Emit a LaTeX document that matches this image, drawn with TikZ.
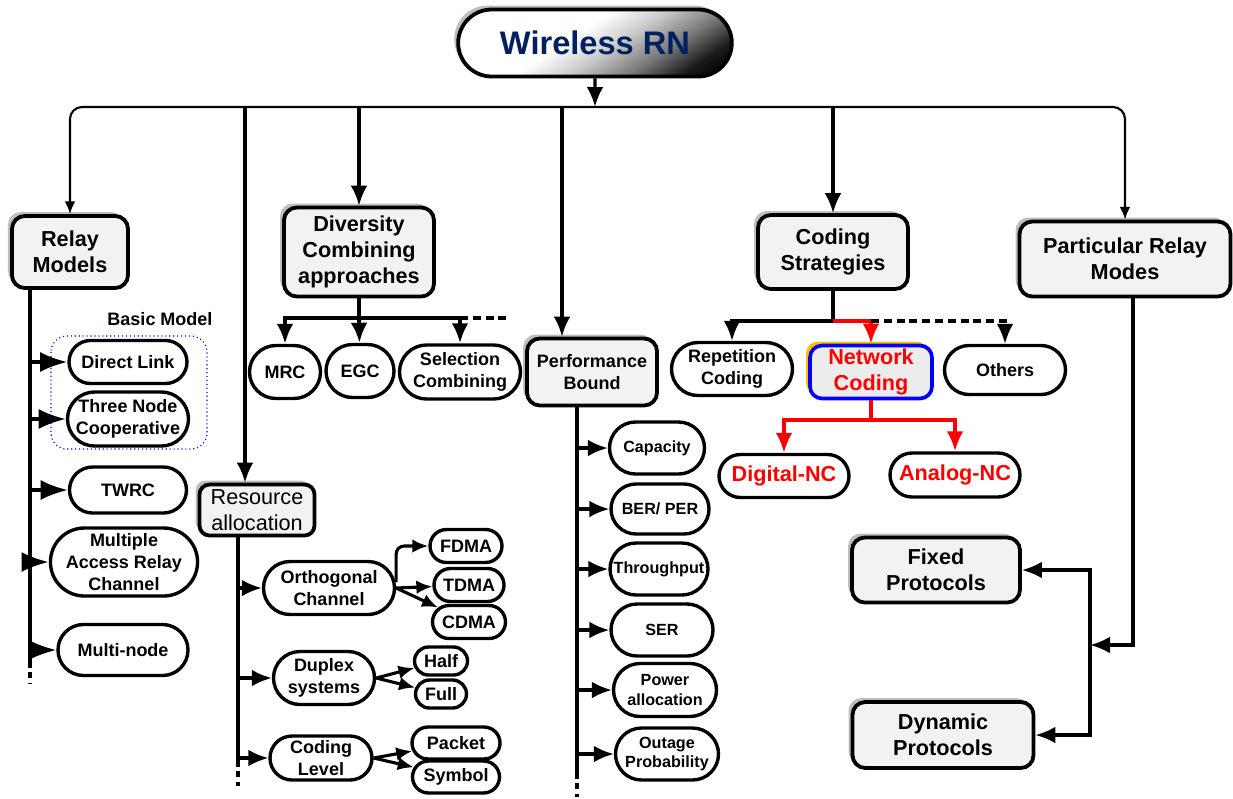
\documentclass[tikz,border=0pt]{standalone}
\usepackage{fontspec}
\setmainfont{Liberation Sans}
\usetikzlibrary{arrows.meta,shapes.misc,shadows}
\definecolor{rnblue}{RGB}{0,32,96}
\definecolor{lvlgray}{RGB}{242,242,242}
\definecolor{shadowgray}{RGB}{190,190,190}
\definecolor{ncorange}{RGB}{255,192,0}
\pgfdeclareverticalshading{rnshade}{100bp}{color(0bp)=(black); color(18bp)=(black); color(25bp)=(black!90); color(35bp)=(white!48!black); color(46bp)=(white!80!black); color(56bp)=(white); color(100bp)=(white)}

\begin{document}
\begin{tikzpicture}
	[x=0.025cm, y=-0.025cm, line width=2.2pt, >={Latex[length=0.5cm,width=0.42cm]},
	sz/.style 2 args={minimum width=#1*0.025cm, minimum height=#2*0.025cm},
	leaf/.style={rounded rectangle, draw, line width=2.4pt, fill=white, inner sep=0pt, align=center, font=\fontsize{12.8}{15.6}\selectfont\bfseries},
	pleaf/.style={leaf, font=\fontsize{11.5}{13.9}\selectfont\bfseries},
	redleaf/.style={leaf, text=red, font=\fontsize{15.4}{18.5}\selectfont\bfseries},
	main/.style={rectangle, rounded corners=0.32cm, draw, line width=2.7pt, fill=lvlgray, inner sep=0pt, align=center, font=\fontsize{15.4}{18.7}\selectfont\bfseries, drop shadow={shadow xshift=-0.1cm, shadow yshift=0.1cm, fill=shadowgray, opacity=1}},
	toplink/.style={line width=1.5pt, -{Latex[length=0.32cm,width=0.27cm]}, rounded corners=0.3cm},
	bigtip/.style={-{Latex[length=0.68cm,width=0.5cm]}},
	subtip/.style={-{Latex[length=0.4cm,width=0.34cm]}},
	ncline/.style={red, line width=2.6pt},
	colend/.style={line width=2.4pt, dash pattern=on 0.14cm off 0.12cm},
	busdash/.style={dash pattern=on 0.2cm off 0.12cm}]
	\useasboundingbox (0,0) rectangle (1233,798);

	% root
	\node[rounded rectangle, draw, line width=2.7pt, sz={283}{67}, shading=rnshade, shading angle=33, text=rnblue, font=\fontsize{23.2}{28}\selectfont\bfseries, drop shadow={shadow xshift=-0.1cm, shadow yshift=0.1cm, fill=shadowgray, opacity=1}] (rn) at (595,43) {Wireless RN};

	% first level
	\node[main, sz={116}{72}] (relay) at (70,252) {Relay\\Models};
	\node[main, sz={150}{89}] (div) at (359,252) {Diversity\\Combining\\approaches};
	\node[main, sz={130}{67}, font=\fontsize{12.8}{15.6}\selectfont\bfseries] (pb) at (592,372) {Performance\\Bound};
	\node[main, sz={150}{74}] (cs) at (833,252) {Coding\\Strategies};
	\node[main, sz={211}{75}] (prm) at (1125,259) {Particular Relay\\Modes};
	\node[main, sz={115}{51}, rounded corners=0.25cm, font=\fontsize{15.4}{18.5}\selectfont] (ra) at (257,510) {Resource\\allocation};
	\node[main, sz={168}{65}] (fp) at (936,570) {Fixed\\Protocols};
	\node[main, sz={181}{66}] (dp) at (943,735) {Dynamic\\Protocols};

	% relay models
	\node[inner sep=0pt, font=\fontsize{12.8}{15.6}\selectfont\bfseries] (bm) at (160,319) {Basic Model};
	\draw[blue, dotted, line width=0.8pt, rounded corners=0.4cm] (51,336) rectangle (207,449);
	\node[leaf, sz={118}{43}] (dl) at (128,362) {Direct Link};
	\node[leaf, sz={121}{54}] (tn) at (128,419) {Three Node\\Cooperative};
	\node[leaf, sz={117}{46}] (tw) at (128,490) {TWRC};
	\node[leaf, sz={131}{68}] (ma) at (124,562) {Multiple\\Access Relay\\Channel};
	\node[leaf, sz={130}{51}] (mn) at (123,650) {Multi-node};

	% diversity combining
	\node[leaf, sz={71}{53}] (mrc) at (285,372) {MRC};
	\node[leaf, sz={68}{53}] (egc) at (360,371) {EGC};
	\node[leaf, sz={121}{54}] (sc) at (460,372) {Selection\\Combining};

	% resource allocation
	\node[leaf, sz={131}{53}] (oc) at (329,588) {Orthogonal\\Channel};
	\node[leaf, sz={72}{33}] (fdma) at (466,546) {FDMA};
	\node[leaf, sz={70}{33}] (tdma) at (469,585) {TDMA};
	\node[leaf, sz={73}{33}] (cdma) at (469,622) {CDMA};
	\node[leaf, sz={101}{53}] (ds) at (324,678) {Duplex\\systems};
	\node[leaf, sz={53}{28}] (half) at (441,661) {Half};
	\node[leaf, sz={51}{28}] (full) at (441,694) {Full};
	\node[leaf, sz={102}{44}] (cl) at (321,758) {Coding\\Level};
	\node[leaf, sz={88}{32}] (pk) at (456,743) {Packet};
	\node[leaf, sz={87}{32}] (sy) at (456,777) {Symbol};

	% performance bound
	\node[pleaf, sz={95}{52}] (cap) at (657,448) {Capacity};
	\node[pleaf, sz={98}{50}] (ber) at (660,509) {BER/ PER};
	\node[pleaf, sz={98}{52}] (thr) at (659,569) {Throughput};
	\node[pleaf, sz={102}{52}] (ser) at (662,630) {SER};
	\node[pleaf, sz={103}{53}] (pa) at (665,690) {Power\\allocation};
	\node[pleaf, sz={103}{52}] (op) at (667,754) {Outage\\Probability};

	% coding strategies
	\node[leaf, sz={121}{53}] (rc) at (732,369) {Repetition\\Coding};
	\node[redleaf, rectangle, rounded corners=0.3cm, draw=blue, fill=gray!15, line width=2.6pt, sz={122}{53}, drop shadow={shadow xshift=-0.1cm, shadow yshift=0.1cm, fill=ncorange, opacity=1}] (nc) at (871,372) {Network\\Coding};
	\node[leaf, sz={121}{49}] (oth) at (1005,370) {Others};
	\node[redleaf, sz={130}{43}] (dnc) at (784,476) {Digital-NC};
	\node[redleaf, sz={130}{44}] (anc) at (955,475) {Analog-NC};

	% root bus
	\coordinate (bus) at (595,107);
	\coordinate (radrop) at ([xshift=-0.3cm]ra.north);
	\coordinate (pbdrop) at ([xshift=-0.75cm]pb.north);
	\draw[->] (rn) -- (bus);
	\draw[toplink] (bus) -| (relay);
	\draw[toplink] (bus) -| (prm);
	\draw[->] (bus -| radrop) -- (radrop);
	\draw[->] (bus -| div) -- (div);
	\draw[->] (bus -| pbdrop) -- (pbdrop);
	\draw[->] (bus -| cs) -- (cs);

	% relay column
	\coordinate (rtop) at (30,288);
	\coordinate (rend) at (30,662);
	\coordinate (rdots) at (30,684);
	\draw[line width=2.4pt] (rtop) -- (rend);
	\draw[colend] (rend) -- (rdots);
	\draw[bigtip] (rtop |- dl) -- (dl);
	\draw[bigtip] (rtop |- tn) -- (tn);
	\draw[bigtip] (rtop |- tw) -- (tw);
	\draw[bigtip] (rtop |- ma) -- (ma);
	\draw[bigtip] (rtop |- mn) -- (mn);

	% diversity branches
	\coordinate (dbus) at (359,318);
	\coordinate (dend) at (507,318);
	\draw[line width=2.8pt] (div) -- (dbus);
	\draw[->, line width=2.8pt] (dbus) -| (mrc);
	\draw[->, line width=2.8pt] (dbus) -- (egc);
	\draw[->, line width=2.8pt] (dbus) -| (sc);
	\draw[busdash, line width=2.8pt] (sc |- dbus) -- (dend);

	% resource column
	\coordinate (atop) at (238,536);
	\coordinate (aend) at (238,761);
	\coordinate (adots) at (238,786);
	\draw[line width=2.4pt] (atop) -- (aend);
	\draw[colend] (aend) -- (adots);
	\draw[->] (atop |- oc) -- (oc);
	\draw[->] (atop |- ds) -- (ds);
	\draw[->] (atop |- cl) -- (cl);
	\draw[subtip, rounded corners=0.2cm] ([yshift=0.15cm]oc.east) |- (fdma);
	\draw[subtip] (oc.east) -- (tdma);
	\draw[subtip] (oc.east) -- (cdma);
	\draw[subtip] (ds.east) -- (half);
	\draw[subtip] (ds.east) -- (full);
	\draw[subtip] (cl.east) -- (pk);
	\draw[subtip] (cl.east) -- (sy);

	% performance column
	\coordinate (ptop) at (577,406);
	\coordinate (pend) at (577,773);
	\coordinate (pdots) at (577,797);
	\draw[line width=2.4pt] (ptop) -- (pend);
	\draw[colend] (pend) -- (pdots);
	\draw[->] (ptop |- cap) -- (cap);
	\draw[->] (ptop |- ber) -- (ber);
	\draw[->] (ptop |- thr) -- (thr);
	\draw[->] (ptop |- ser) -- (ser);
	\draw[->] (ptop |- pa) -- (pa);
	\draw[->] (ptop |- op) -- (op);

	% coding branches
	\coordinate (cbus) at (833,321);
	\coordinate (nbus) at (871,420);
	\draw (cs) -- (cbus);
	\draw[->] (cbus) -| (rc);
	\draw[ncline, ->] (cbus) -| (nc);
	\draw[busdash, ->] (nc |- cbus) -| (oth);
	\draw[ncline] (nc) -- (nbus);
	\draw[ncline, ->] (nbus) -| (dnc);
	\draw[ncline, ->] (nbus) -| (anc);

	% protocols
	\coordinate (pjoin) at (1090,645);
	\draw[->] ([xshift=0.2cm]prm.south) |- (pjoin);
	\draw[->] (pjoin) |- (fp);
	\draw[->] (pjoin) |- (dp);
\end{tikzpicture}
\end{document}
